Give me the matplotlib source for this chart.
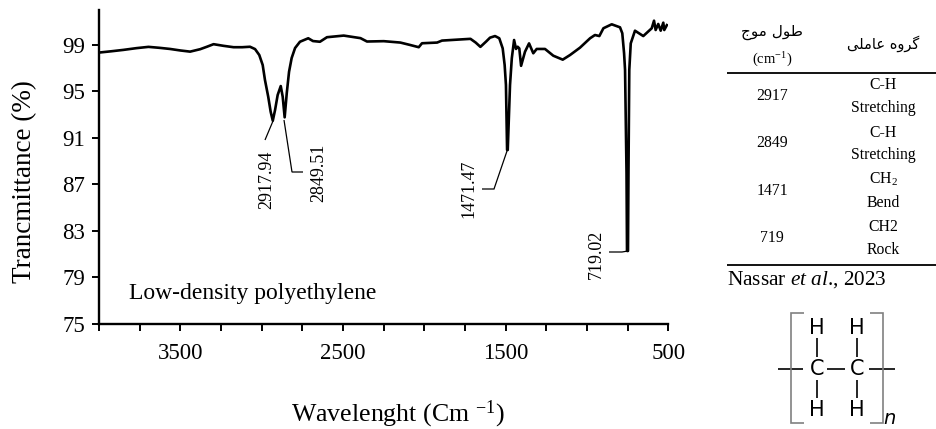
import matplotlib
matplotlib.use("Agg")
import matplotlib.pyplot as plt
from matplotlib.lines import Line2D

plt.rcParams['font.family'] = ['Liberation Serif', 'DejaVu Sans']
plt.rcParams['mathtext.fontset'] = 'custom'
plt.rcParams['mathtext.rm'] = 'Liberation Serif'
plt.rcParams['mathtext.it'] = 'Liberation Serif:italic'

wavenumber = [4000,3925,3850,3770,3696,3630,3563,3500,3440,3378,3335,3296,3235,3173,3120,3072,3041,3015,2994,2980,2960,2945,2932,
              2918,2902,2883,2871,2859,2846,2832,2816,2795,2765,2714,2685,2642,2599,2496,2393,2353,2250,2148,2090,2035,2015,1922,
              1892,1800,1717,1685,1656,1620,1597,1566,1540,1519,1507,1499,1492,1488,1474,1463,1449,1437,1427,1417,1406,1382,1357,
              1331,1310,1259,1208,1150,1105,1044,982,952,925,900,849,798,784,773,767,758,755,749,746,741,732,706,655,603,589,579,
              563,548,532,526,510]
transmittance = [98.34,98.45,98.57,98.72,98.83,98.75,98.65,98.52,98.42,98.63,98.85,99.06,98.92,98.8,98.8,98.84,98.64,98.13,97.27,95.98,94.54,93.25,92.48,
                 93.4,94.69,95.46,94.54,92.77,94.86,96.69,97.87,98.73,99.27,99.57,99.33,99.27,99.66,99.8,99.58,99.29,99.32,99.2,99.0,98.8,99.14,99.2,
                 99.37,99.45,99.52,99.2,98.83,99.3,99.62,99.76,99.57,98.7,97.27,95.55,89.96,89.96,95.55,97.85,99.42,98.65,98.84,98.7,97.2,98.41,99.13,
                 98.28,98.65,98.65,98.07,97.73,98.13,98.76,99.57,99.85,99.76,100.43,100.77,100.51,100.0,98.28,96.84,88.0,81.28,81.28,88.0,96.84,99.13,100.22,99.76,100.43,101.08,100.28,
                 100.8,100.22,100.91,100.28,100.7]
x_major = [3500, 2500, 1500, 500]
y_ticks = [75, 79, 83, 87, 91, 95, 99]
peak_labels = ["2917.94", "2849.51", "1471.47", "719.02"]
table_waves = ["2917", "2849", "1471", "719"]
table_groups = [("C-H", "Stretching"), ("C-H", "Stretching"), ("CH$_2$", "Bend"), ("CH2", "Rock")]
# Persian headers in presentation forms, visual order
head_wave = "\uFE9D\uFEEE\uFEE3 \uFEDD\uFEEE\uFEC3"
head_group = "\uFBFD\uFEE0\uFEE3\uFE8E\uFECB \uFEE9\uFEED\uFEAE\uFB94"

W, H = 936, 429
fig = plt.figure(figsize=(W/100, H/100), dpi=100)
def fx(x): return x / W
def fy(y): return 1 - y / H
def T(x, y, s, size, **kw):
    kw.setdefault('ha', 'center'); kw.setdefault('va', 'center')
    return fig.text(fx(x), fy(y), s, fontsize=size, color='black', **kw)
def L(xs, ys, lw=0.9, color='black'):
    fig.add_artist(Line2D([fx(a) for a in xs], [fy(b) for b in ys], lw=lw, color=color,
                          solid_capstyle='butt', solid_joinstyle='miter'))

left, right, top, bottom = 99, 668.5, 10, 324
ax = fig.add_axes([fx(left), fy(bottom), (right-left)/W, (bottom-top)/H])
ax.plot(wavenumber, transmittance, color='black', lw=1.9, solid_joinstyle='round')
ax.set_xlim(4000, 500)
ax.set_ylim(75, 102)
ax.set_xticks(list(range(500, 4001, 250)))
ax.set_xticklabels(["" if v not in x_major else str(v) for v in range(500, 4001, 250)])
ax.set_yticks(y_ticks)
ax.tick_params(axis='both', length=5, width=1.4, labelsize=16.5, pad=5)
ax.tick_params(axis='x', pad=9)
for s in ['top', 'right']:
    ax.spines[s].set_visible(False)
for s in ['left', 'bottom']:
    ax.spines[s].set_linewidth(1.7)

T(25, 182, "Trancmittance (%)", 19.5, rotation=90)
T(398, 414, "Wavelenght (Cm $^{\\mathrm{-1}}$)", 18.6)
T(129, 293, "Low-density polyethylene", 17, ha='left')

# peak leaders and labels
L([273, 265], [121, 140]); T(267, 180, peak_labels[0], 13, rotation=90)
L([284, 292, 303], [120, 172, 172]); T(319, 173, peak_labels[1], 13, rotation=90)
L([507, 494, 482], [151, 189, 189]); T(469, 189, peak_labels[2], 13, rotation=90)
L([628, 622, 609], [251, 252, 252]); T(596, 254, peak_labels[3], 13, rotation=90)

# table
L([727, 936], [73, 73], lw=1.3)
L([727, 936], [265, 265], lw=1.3)
T(772, 32, head_wave, 11, family='DejaVu Sans')
T(772, 60, "(cm$^{\\mathrm{-1}}$)", 10.5)
T(883, 44, head_group, 10.5, family='DejaVu Sans')
wave_y = [96, 143, 191, 238]
row_y = [(85, 108), (133, 155), (179, 203), (227, 250)]
for w, gr, wy, ry in zip(table_waves, table_groups, wave_y, row_y):
    T(772, wy, w, 11.3)
    T(883, ry[0], gr[0], 11.3)
    T(883, ry[1], gr[1], 11.3)
T(727, 280, "Nassar $\\mathit{et\\ al}$., 2023", 15.3, ha='left')

# polyethylene structure
for x in (817, 857):
    T(x, 328, "H", 15, family='DejaVu Sans')
    T(x, 369, "C", 15, family='DejaVu Sans')
    T(x, 410, "H", 15, family='DejaVu Sans')
    L([x, x], [338, 357], lw=1.2)
    L([x, x], [380, 398], lw=1.2)
L([778, 803], [369, 369], lw=1.2)
L([827, 845], [369, 369], lw=1.2)
L([869, 895], [369, 369], lw=1.2)
L([804, 791, 791, 804], [313, 313, 423, 423], lw=1.2, color='#808080')
L([870, 883, 883, 870], [313, 313, 423, 423], lw=1.2, color='#808080')
T(890, 428.5, "n", 14, family='DejaVu Sans', style='italic', va='bottom')

fig.savefig("out.png", dpi=100)
